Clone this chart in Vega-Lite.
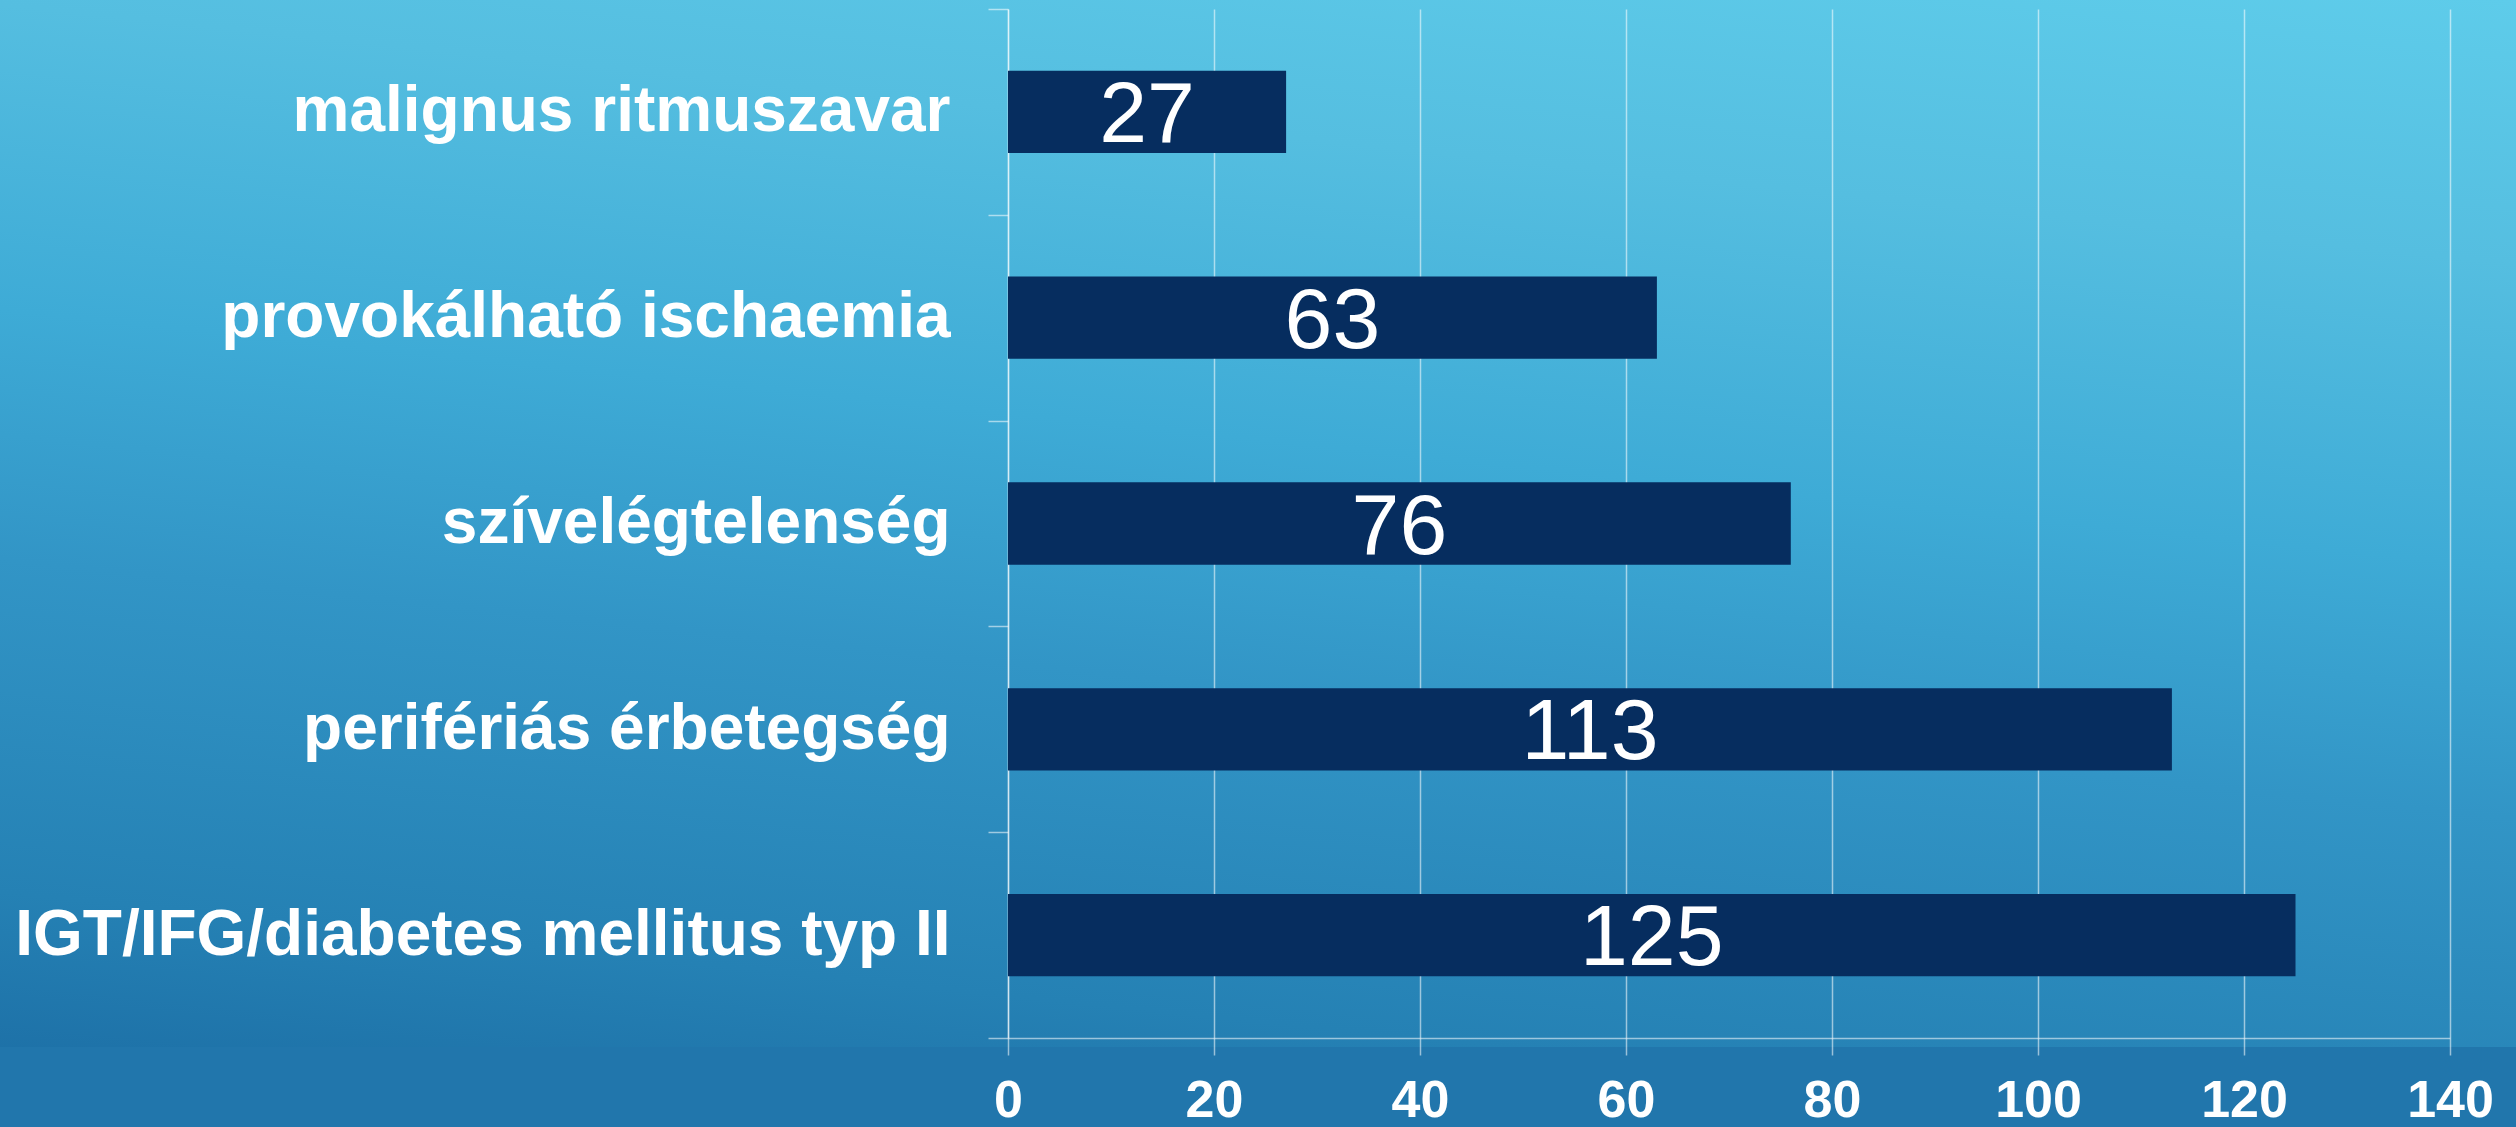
{
  "$schema": "https://vega.github.io/schema/vega-lite/v6.json",
  "width": 2516,
  "height": 1047,
  "autosize": {"type": "none"},
  "padding": {"left": 0, "top": 0, "right": 0, "bottom": 80},
  "background": "#2176AC",
  "view": {
    "stroke": null,
    "fill": {
      "gradient": "linear",
      "x1": 1, "y1": 0, "x2": 0.691, "y2": 1.248,
      "stops": [
        {"offset": 0, "color": "#5ECCEA"},
        {"offset": 0.19, "color": "#55BEE0"},
        {"offset": 0.41, "color": "#3EABD6"},
        {"offset": 0.59, "color": "#3295C6"},
        {"offset": 0.83, "color": "#2581B4"},
        {"offset": 1, "color": "#1A6AA2"}
      ]
    }
  },
  "data": {
    "values": [
      {"label": "malignus ritmuszavar", "value": 27},
      {"label": "provokálható ischaemia", "value": 63},
      {"label": "szívelégtelenség", "value": 76},
      {"label": "perifériás érbetegség", "value": 113},
      {"label": "IGT/IFG/diabetes mellitus typ II", "value": 125}
    ]
  },
  "encoding": {
    "y": {
      "field": "label",
      "type": "nominal",
      "sort": null,
      "scale": {"range": [9, 1038], "paddingInner": 0, "paddingOuter": 0},
      "axis": {
        "title": null,
        "offset": -1008,
        "tickBand": "extent",
        "tickSize": 20,
        "tickColor": "rgba(255,255,255,0.55)",
        "tickWidth": 1.5,
        "domainColor": "rgba(255,255,255,0.55)",
        "domainWidth": 1.5,
        "labelPadding": 38,
        "labelFont": "Liberation Sans",
        "labelFontSize": 64,
        "labelFontWeight": "bold",
        "labelColor": "white",
        "labelLimit": 0,
        "grid": false
      }
    }
  },
  "layer": [
    {
      "mark": {"type": "bar", "color": "#062D5F", "height": {"band": 0.4}},
      "encoding": {
        "x": {
          "field": "value",
          "type": "quantitative",
          "scale": {"domain": [0, 140], "range": [1008, 2450], "nice": false},
          "axis": {
            "title": null,
            "values": [0, 20, 40, 60, 80, 100, 120, 140],
            "offset": -9,
            "grid": true,
            "gridColor": "rgba(255,255,255,0.55)",
            "gridWidth": 1.5,
            "domainColor": "rgba(255,255,255,0.55)",
            "domainWidth": 1.5,
            "tickColor": "rgba(255,255,255,0.55)",
            "tickWidth": 1.5,
            "tickSize": 17,
            "labelPadding": 20,
            "labelFont": "Liberation Sans",
            "labelFontSize": 52,
            "labelFontWeight": "bold",
            "labelColor": "white",
            "labelFlush": false,
            "labelOverlap": false
          }
        }
      }
    },
    {
      "mark": {"type": "text", "color": "white", "font": "Liberation Sans", "fontSize": 86, "align": "center", "baseline": "middle", "dy": 4},
      "encoding": {
        "x": {
          "field": "value",
          "type": "quantitative",
          "scale": {"domain": [0, 280], "range": [1008, 2450], "nice": false},
          "axis": null
        },
        "text": {"field": "value", "type": "quantitative"}
      }
    }
  ],
  "resolve": {"scale": {"x": "independent"}}
}
